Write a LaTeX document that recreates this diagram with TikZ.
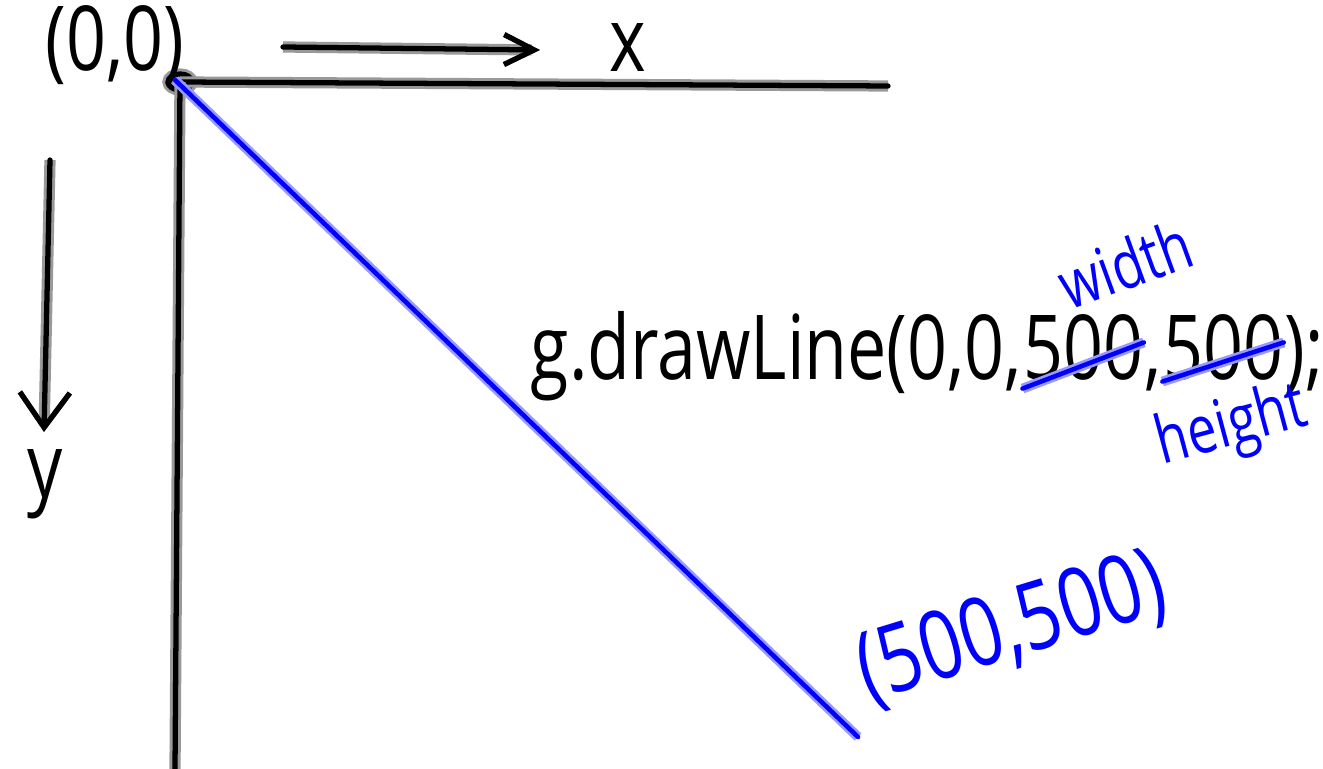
\documentclass[tikz,border=0pt]{standalone}
\usepackage{fontspec}
\newfontfamily\hand[FakeStretch=0.78]{Open Sans}
\usetikzlibrary{arrows.meta}

\tikzset{
  pen/.style={line width=1.5pt, line cap=round, line join=round,
              preaction={draw=black!40, line width=3.2pt}},
  bluepen/.style={blue, line width=1.3pt, line cap=round,
              preaction={draw=blue!40, line width=2.8pt}},
  code/.style={font=\hand\fontsize{25.5}{29}\selectfont, inner sep=0pt},
  bluecode/.style={code, text=blue},
  note/.style={bluecode, font=\hand\fontsize{19}{22}\selectfont},
  barb/.style 2 args={-{Straight Barb[length=#1, width=#2, line width=1.5pt]}},
}

\begin{document}
\begin{tikzpicture}[>=stealth]
  \useasboundingbox (0,0) rectangle (13.23,-7.69);

  % origin and the two screen axes
  \coordinate (origin) at (1.80,-0.82);
  \coordinate (xend) at (8.88,-0.86);
  \coordinate (yend) at (1.75,-7.69);
  \draw[pen] (origin) ellipse (0.12 and 0.08);
  \draw[pen] (origin) -- (xend);
  \draw[pen] (origin) -- (yend);
  \node[code] (orig) at (1.15,-0.45) {(0,0)};

  % direction arrows with labels
  \coordinate (xa) at (2.83,-0.47);
  \coordinate (xb) at (5.40,-0.50);
  \draw[pen, barb={0.3cm}{0.3cm}] (xa) -- (xb);
  \node[code] (xlab) at (6.28,-0.48) {x};

  \coordinate (ya) at (0.50,-1.60);
  \coordinate (yb) at (0.44,-4.32);
  \draw[pen, barb={0.35cm}{0.5cm}] (ya) -- (yb);
  \node[code] (ylab) at (0.45,-4.84) {y};

  % the drawn line
  \coordinate (lineend) at (8.58,-7.37);
  \draw[bluepen] (1.75,-0.80) -- (lineend);
  \node[bluecode, rotate=17, font=\hand\fontsize{27}{31}\selectfont] (endlab) at (10.12,-6.30) {(500,500)};

  % the call, with width and height crossed over the numbers
  \node[code, anchor=base west] (call) at (5.30,-3.80) {g.drawLine(0,0,};
  \node[code, anchor=base west] (wval) at (call.base east) {500};
  \node[code, anchor=base west] (comma) at (wval.base east) {,};
  \node[code, anchor=base west] (hval) at (comma.base east) {500};
  \node[code, anchor=base west] (close) at (hval.base east) {);};

  \draw[bluepen] ([yshift=-2pt]wval.south west) -- ([yshift=-8pt]wval.north east);
  \draw[bluepen] ([yshift=0pt]hval.south west) -- ([yshift=-8pt]hval.north east);
  \node[note, rotate=20] (wlab) at (11.25,-2.64) {width};
  \node[note, rotate=15] (hlab) at (12.32,-4.28) {height};
\end{tikzpicture}
\end{document}
